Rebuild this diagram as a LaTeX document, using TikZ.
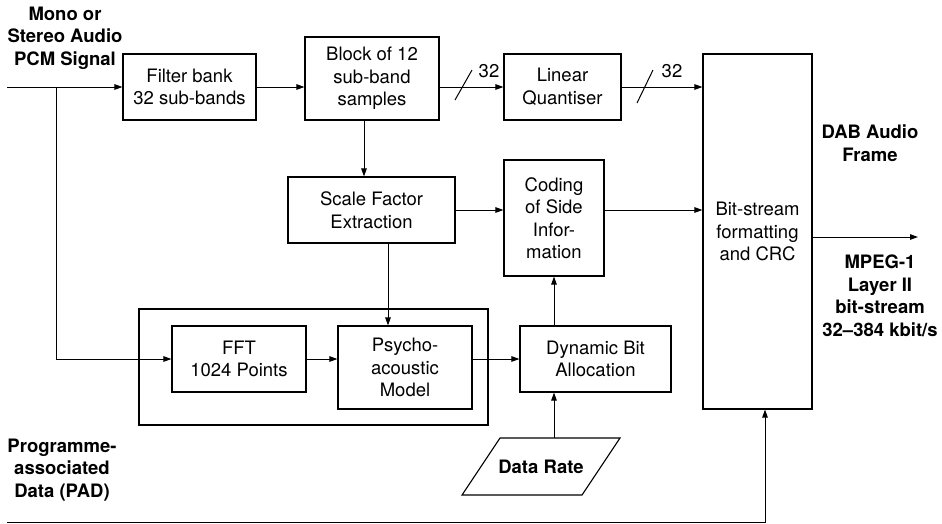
\documentclass[tikz,border=0pt]{standalone}
\usepackage{fontspec}
\setmainfont{TeX Gyre Heros}
\usetikzlibrary{arrows.meta,calc}
\begin{document}
\begin{tikzpicture}[x=1pt,y=-1pt,
  line width=1pt,
  every node/.style={font=\fontsize{18.5}{22.5}\selectfont, align=center, inner sep=2pt},
  blockbox/.style={draw, line width=1.1pt, rectangle},
  lbl/.style={font=\fontsize{18.5}{22.5}\selectfont\bfseries, align=center},
  arr/.style={-{Triangle[length=8pt,width=5.5pt]}}]
\useasboundingbox (0,0) rectangle (942,523);
% boxes
\node[blockbox, minimum width=133, minimum height=66] (fb) at (189.5,87) {Filter bank\\32 sub-bands};
\node[blockbox, minimum width=134, minimum height=83] (blk) at (372,78.5) {Block of 12\\sub-band\\samples};
\node[blockbox, minimum width=117, minimum height=66] (lq) at (562.5,87) {Linear\\Quantiser};
\node[blockbox, minimum width=109, minimum height=355] (bit) at (757.5,231.5) {Bit-stream\\formatting\\and CRC};
\node[blockbox, minimum width=167, minimum height=66] (sf) at (371.5,210) {Scale Factor\\Extraction};
\node[blockbox, minimum width=100, minimum height=116] (cod) at (554,218) {Coding\\of Side\\Infor-\\mation};
\node[blockbox, minimum width=349, minimum height=116] (outer) at (313.5,367) {};
\node[blockbox, minimum width=134, minimum height=66] (fft) at (239,359) {FFT\\1024 Points};
\node[blockbox, minimum width=134, minimum height=83] (psy) at (405,367.5) {Psycho-\\acoustic\\Model};
\node[blockbox, minimum width=151, minimum height=66] (dba) at (595.5,359) {Dynamic Bit\\Allocation};
% data rate parallelogram
\draw[line width=1.1pt] (462,495) -- (500,438) -- (620,438) -- (582,495) -- cycle;
\node[lbl] (dr) at (541,467) {Data Rate};
\coordinate (drtop) at (554,438);
% labels
\node[lbl] (mono) at (65,38) {Mono or\\Stereo Audio\\PCM Signal};
\node[lbl] (dab) at (870,143) {DAB Audio\\Frame};
\node[lbl] (mpeg) at (880,296) {MPEG-1\\Layer II\\bit-stream\\32–384 kbit/s};
\node[lbl] (pad) at (62,470) {Programme-\\associated\\Data (PAD)};
\node (n32a) at (489,71) {32};
\node (n32b) at (672,71) {32};
% coordinates
\coordinate (in) at (7,87);
\coordinate (br) at (56,87);
\coordinate (padin) at (7,522);
\coordinate (padc) at (765,522);
\coordinate (out) at (918,237);
% connectors
\draw[arr] (in) -- (fb.west);
\draw[arr] (br) |- (fft.west);
\draw[arr] (fb.east) -- (blk.west |- fb.east);
\draw[arr] (blk.east |- lq.west) -- (lq.west);
\draw[arr] (lq.east) -- (bit.west |- lq.east);
\draw[arr] ([xshift=-8pt]blk.south) -- ([xshift=-8pt]blk.south |- sf.north);
\draw[arr] (sf.east) -- (sf.east -| cod.west);
\draw[arr] (cod.east |- sf.east) -- (bit.west |- sf.east);
\draw[arr] ([xshift=16.5pt]sf.south) -- ([xshift=16.5pt]sf.south |- psy.north);
\draw[arr] (fft.east) -- (psy.west |- fft.east);
\draw[arr] (psy.east |- fft.east) -- (dba.west);
\draw[arr] (dba.north -| cod.south) -- (cod.south);
\draw[arr] (drtop) -- (drtop |- dba.south);
\draw[arr] (padin) -- (padc) -- (padc |- bit.south);
\draw[arr] (bit.east |- out) -- (out);
% slash marks
\draw (455,100) -- (472,70);
\draw (637,103) -- (653,70);
\end{tikzpicture}
\end{document}
